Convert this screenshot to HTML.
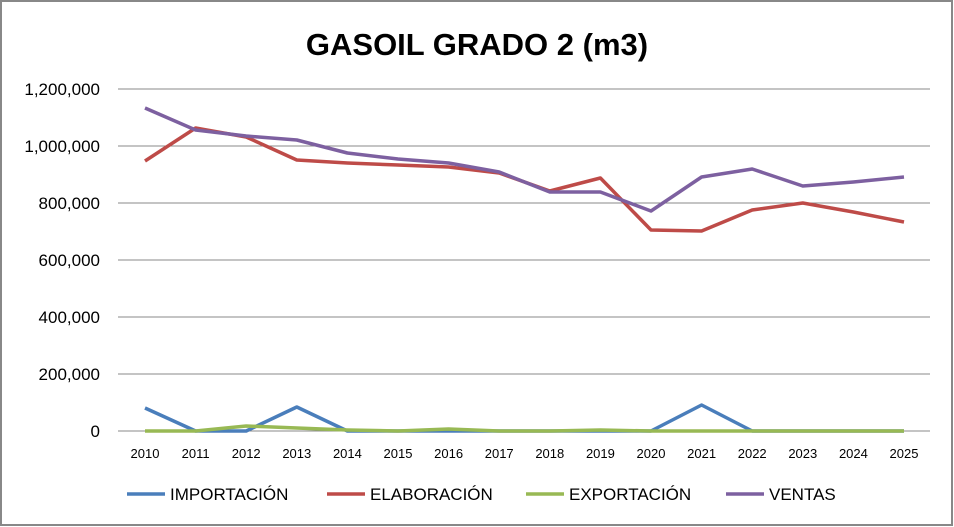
<!DOCTYPE html>
<html><head><meta charset="utf-8"><style>
html,body{margin:0;padding:0;background:#fff}
svg{display:block}
text{font-family:"Liberation Sans",sans-serif;fill:#000}
</style></head><body>
<svg width="954" height="527" viewBox="0 0 954 527" xmlns="http://www.w3.org/2000/svg">
<rect x="1" y="1" width="951" height="524" fill="#fff" stroke="#888" stroke-width="2"/>
<text x="477" y="55" text-anchor="middle" font-size="31" font-weight="bold">GASOIL GRADO 2 (m3)</text>
<g stroke="#888" stroke-width="1">
<line x1="118" x2="930" y1="89" y2="89"/><line x1="118" x2="930" y1="146" y2="146"/>
<line x1="118" x2="930" y1="203" y2="203"/><line x1="118" x2="930" y1="260" y2="260"/>
<line x1="118" x2="930" y1="317" y2="317"/><line x1="118" x2="930" y1="374" y2="374"/>
<line x1="118" x2="930" y1="431" y2="431"/>
</g>
<g font-size="17" text-anchor="end">
<text x="100" y="95">1,200,000</text><text x="100" y="152">1,000,000</text>
<text x="100" y="209">800,000</text><text x="100" y="266">600,000</text>
<text x="100" y="323">400,000</text><text x="100" y="380">200,000</text>
<text x="100" y="437">0</text>
</g>
<g font-size="13" text-anchor="middle">
<text x="145" y="458">2010</text><text x="195.6" y="458">2011</text><text x="246.2" y="458">2012</text><text x="296.8" y="458">2013</text>
<text x="347.4" y="458">2014</text><text x="398" y="458">2015</text><text x="448.6" y="458">2016</text><text x="499.2" y="458">2017</text>
<text x="549.8" y="458">2018</text><text x="600.4" y="458">2019</text><text x="651" y="458">2020</text><text x="701.6" y="458">2021</text>
<text x="752.2" y="458">2022</text><text x="802.8" y="458">2023</text><text x="853.4" y="458">2024</text><text x="904" y="458">2025</text>
</g>
<g fill="none" stroke-width="3.5" stroke-linejoin="round">
<polyline stroke="#4a7ebb" points="145,408 195.6,431 246.2,431 296.8,407 347.4,431 398,431 448.6,431 499.2,431 549.8,431 600.4,431 651,431 701.6,405 752.2,431 802.8,431 853.4,431 904,431"/>
<polyline stroke="#be4b48" points="145,161 195.6,128 246.2,137 296.8,160 347.4,163 398,165 448.6,167 499.2,173 549.8,191 600.4,178 651,230 701.6,231 752.2,210 802.8,203 853.4,212 904,222"/>
<polyline stroke="#98b954" points="145,431 195.6,431 246.2,426 296.8,428 347.4,430 398,431 448.6,429 499.2,431 549.8,431 600.4,430 651,431 701.6,431 752.2,431 802.8,431 853.4,431 904,431"/>
<polyline stroke="#7d60a0" points="145,108 195.6,130 246.2,136 296.8,140 347.4,153 398,159 448.6,163 499.2,172 549.8,192 600.4,192 651,211 701.6,177 752.2,169 802.8,186 853.4,182 904,177"/>
</g>
<g font-size="17">
<line x1="127" x2="165" y1="494" y2="494" stroke="#4a7ebb" stroke-width="3.5"/><text x="170" y="500">IMPORTACIÓN</text>
<line x1="327" x2="365" y1="494" y2="494" stroke="#be4b48" stroke-width="3.5"/><text x="370" y="500">ELABORACIÓN</text>
<line x1="526" x2="564" y1="494" y2="494" stroke="#98b954" stroke-width="3.5"/><text x="569" y="500">EXPORTACIÓN</text>
<line x1="726" x2="764" y1="494" y2="494" stroke="#7d60a0" stroke-width="3.5"/><text x="769" y="500">VENTAS</text>
</g>
</svg>
</body></html>
